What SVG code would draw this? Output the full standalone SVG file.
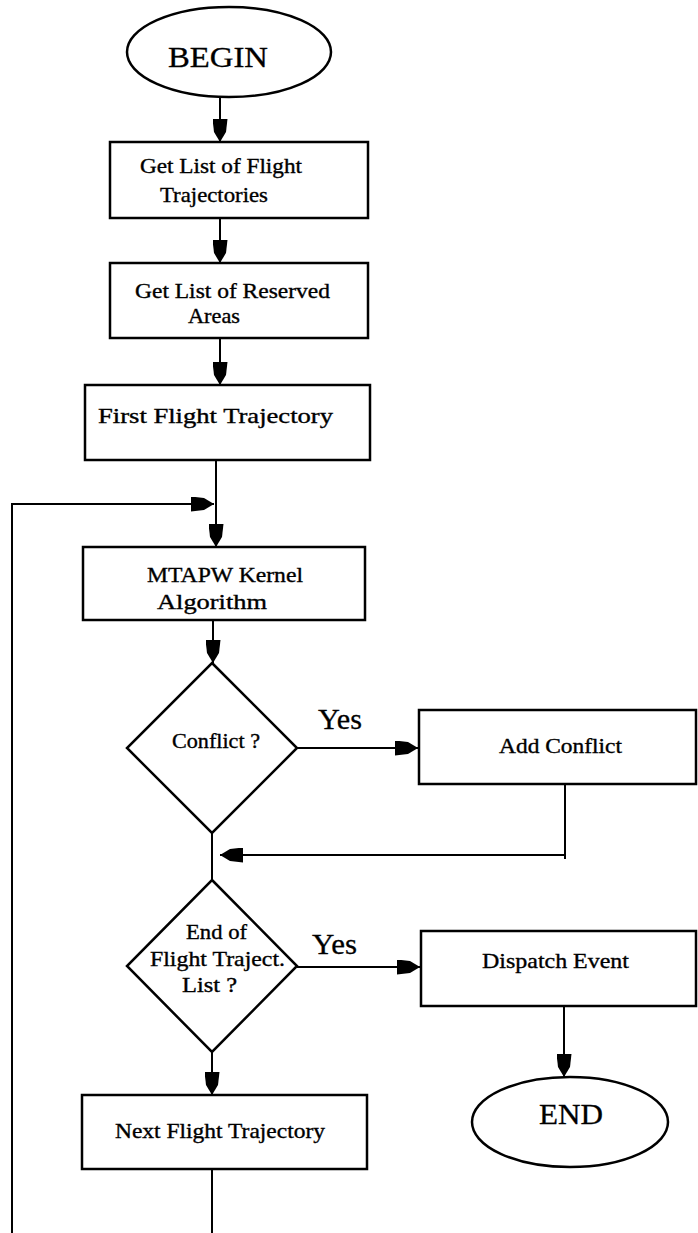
<svg xmlns="http://www.w3.org/2000/svg" width="698" height="1233" viewBox="0 0 698 1233">
  <defs>
    <style>
      .shape { fill: #ffffff; stroke: #000000; stroke-width: 2.5; }
      .wire { fill: none; stroke: #000000; stroke-width: 2; }
      .lbl { font-family: "Liberation Serif", "Times New Roman", serif; font-size: 21px; fill: #000000; stroke: #000000; stroke-width: 0.35; }
      .big { font-family: "Liberation Serif", "Times New Roman", serif; font-size: 30px; fill: #000000; stroke: #000000; stroke-width: 0.3; }
    </style>
    <marker id="head" markerUnits="userSpaceOnUse" markerWidth="23" markerHeight="15" refX="23" refY="7.5" orient="auto" viewBox="0 0 23 15">
      <path d="M0,0 L13,1.5 L23,7.5 L13,13.5 L0,15 Z" fill="#000000"/>
    </marker>
  </defs>

  <rect width="698" height="1233" fill="#ffffff"/>

  <!-- connectors -->
  <g id="connectors">
    <line class="wire" x1="220" y1="97" x2="220" y2="142" marker-end="url(#head)"/>
    <line class="wire" x1="220" y1="218" x2="220" y2="263" marker-end="url(#head)"/>
    <line class="wire" x1="220" y1="338" x2="220" y2="385" marker-end="url(#head)"/>
    <line class="wire" x1="216" y1="460" x2="216" y2="547" marker-end="url(#head)"/>
    <path class="wire" d="M12,1233 V504 H214" marker-end="url(#head)"/>
    <line class="wire" x1="213" y1="620" x2="213" y2="663" marker-end="url(#head)"/>
    <line class="wire" x1="297" y1="748" x2="418" y2="748" marker-end="url(#head)"/>
    <line class="wire" x1="212" y1="833" x2="212" y2="880"/>
    <line class="wire" x1="565" y1="784" x2="565" y2="859"/>
    <line class="wire" x1="565" y1="855" x2="220" y2="855" marker-end="url(#head)"/>
    <line class="wire" x1="297" y1="967" x2="420" y2="967" marker-end="url(#head)"/>
    <line class="wire" x1="564" y1="1006" x2="564" y2="1077" marker-end="url(#head)"/>
    <line class="wire" x1="212" y1="1052" x2="212" y2="1095" marker-end="url(#head)"/>
    <line class="wire" x1="212" y1="1169" x2="212" y2="1233"/>
  </g>

  <g id="begin">
    <ellipse class="shape" cx="229" cy="52" rx="102" ry="45"/>
    <text class="big" x="168" y="67" font-size="34" textLength="100" lengthAdjust="spacingAndGlyphs">BEGIN</text>
  </g>

  <g id="get-trajectories">
    <rect class="shape" x="110" y="142" width="258" height="76"/>
    <text class="lbl" x="140" y="173" textLength="162" lengthAdjust="spacingAndGlyphs">Get List of Flight</text>
    <text class="lbl" x="160" y="202" textLength="108" lengthAdjust="spacingAndGlyphs">Trajectories</text>
  </g>

  <g id="get-reserved">
    <rect class="shape" x="110" y="263" width="258" height="75"/>
    <text class="lbl" x="135" y="298" textLength="195" lengthAdjust="spacingAndGlyphs">Get List of Reserved</text>
    <text class="lbl" x="188" y="323" textLength="52" lengthAdjust="spacingAndGlyphs">Areas</text>
  </g>

  <g id="first-trajectory">
    <rect class="shape" x="85" y="385" width="285" height="75"/>
    <text class="lbl" x="98" y="423" textLength="235" lengthAdjust="spacingAndGlyphs">First Flight Trajectory</text>
  </g>

  <g id="kernel">
    <rect class="shape" x="83" y="547" width="282" height="73"/>
    <text class="lbl" x="147" y="582" textLength="156" lengthAdjust="spacingAndGlyphs">MTAPW Kernel</text>
    <text class="lbl" x="157" y="609" textLength="110" lengthAdjust="spacingAndGlyphs">Algorithm</text>
  </g>

  <g id="conflict-check">
    <polygon class="shape" points="212,663 297,748 212,833 127,748"/>
    <text class="lbl" x="172" y="748" textLength="88" lengthAdjust="spacingAndGlyphs">Conflict ?</text>
    <text class="big" x="318" y="729" textLength="44" lengthAdjust="spacingAndGlyphs">Yes</text>
  </g>

  <g id="add-conflict">
    <rect class="shape" x="419" y="710" width="277" height="74"/>
    <text class="lbl" x="499" y="753" textLength="123" lengthAdjust="spacingAndGlyphs">Add Conflict</text>
  </g>

  <g id="end-check">
    <polygon class="shape" points="212,880 297,966 212,1052 127,966"/>
    <text class="lbl" x="186" y="939" textLength="61" lengthAdjust="spacingAndGlyphs">End of</text>
    <text class="lbl" x="150" y="966" textLength="135" lengthAdjust="spacingAndGlyphs">Flight Traject.</text>
    <text class="lbl" x="182" y="992" textLength="55" lengthAdjust="spacingAndGlyphs">List  ?</text>
    <text class="big" x="312" y="954" textLength="45" lengthAdjust="spacingAndGlyphs">Yes</text>
  </g>

  <g id="dispatch">
    <rect class="shape" x="421" y="931" width="275" height="75"/>
    <text class="lbl" x="482" y="968" textLength="147" lengthAdjust="spacingAndGlyphs">Dispatch Event</text>
  </g>

  <g id="end">
    <ellipse class="shape" cx="570" cy="1122" rx="98" ry="45"/>
    <text class="big" x="539" y="1124" textLength="64" lengthAdjust="spacingAndGlyphs">END</text>
  </g>

  <g id="next-trajectory">
    <rect class="shape" x="82" y="1095" width="285" height="74"/>
    <text class="lbl" x="115" y="1138" textLength="210" lengthAdjust="spacingAndGlyphs">Next Flight Trajectory</text>
  </g>
</svg>
